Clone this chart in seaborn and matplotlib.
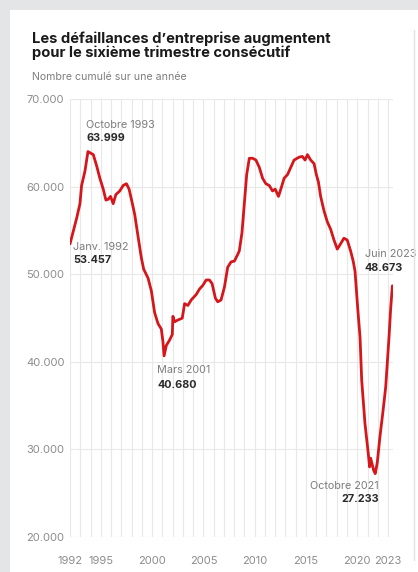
import matplotlib
matplotlib.use("Agg")
import matplotlib.pyplot as plt
from matplotlib.patches import Rectangle
from matplotlib.lines import Line2D
import seaborn as sns
import pandas as pd

# ---- data ----
years = [1992.00, 1992.65, 1992.97, 1993.13, 1993.46, 1993.75, 1994.27, 1994.59, 1994.91,
         1995.24, 1995.50, 1995.72, 1995.95, 1996.21, 1996.47, 1996.85, 1997.18, 1997.50,
         1997.76, 1998.08, 1998.31, 1998.63, 1998.96, 1999.18, 1999.61, 1999.93, 2000.25,
         2000.58, 2000.90, 2001.06, 2001.17, 2001.39, 2001.71, 2001.97, 2002.03, 2002.19,
         2002.52, 2002.94, 2003.17, 2003.49, 2003.81, 2004.30, 2004.62, 2004.94, 2005.27,
         2005.59, 2005.85, 2006.17, 2006.40, 2006.72, 2007.05, 2007.37, 2007.70, 2008.02,
         2008.34, 2008.50, 2008.76, 2008.99, 2009.22, 2009.48, 2009.80, 2010.12, 2010.45,
         2010.77, 2011.09, 2011.42, 2011.74, 2012.00, 2012.32, 2012.55, 2012.87, 2013.20,
         2013.52, 2013.84, 2014.33, 2014.65, 2014.91, 2015.14, 2015.46, 2015.79, 2016.01,
         2016.21, 2016.43, 2016.76, 2017.08, 2017.40, 2017.73, 2018.05, 2018.38, 2018.70,
         2019.02, 2019.35, 2019.60, 2019.78, 2020.05, 2020.27, 2020.43, 2020.75, 2021.07,
         2021.20, 2021.30, 2021.45, 2021.60, 2021.75, 2021.95, 2022.21, 2022.50, 2022.77,
         2023.09, 2023.25, 2023.42]
defaillances = [53457, 56400, 58050, 60125, 61785, 63999, 63650, 62400, 60955,
                59710, 58465, 58550, 58880, 58050, 59090, 59500, 60125, 60330,
                59710, 58050, 56800, 54320, 51830, 50580, 49545, 48090, 45600,
                44360, 43740, 42285, 40680, 41870, 42490, 43115, 45190, 44570,
                44775, 44980, 46640, 46430, 47055, 47680, 48300, 48715, 49340,
                49340, 48925, 47265, 46850, 47055, 48510, 50790, 51410, 51495,
                52240, 52655, 54730, 58050, 61370, 63235, 63235, 63030, 62200,
                60955, 60330, 60125, 59500, 59710, 58880, 59710, 60955, 61370,
                62200, 63030, 63360, 63445, 63030, 63650, 63030, 62615, 61370,
                60540, 58880, 57220, 55975, 55145, 53900, 52865, 53485, 54110,
                53900, 52655, 51500, 50340, 46000, 42770, 37910, 32940, 29550,
                28000, 29000, 28300, 27600, 27233, 28500, 31470, 34300, 37120,
                42770, 46000, 48673]

ytick_values = [20000, 30000, 40000, 50000, 60000, 70000]
ytick_labels = ["20.000", "30.000", "40.000", "50.000", "60.000", "70.000"]
xtick_values = [1992, 1995, 2000, 2005, 2010, 2015, 2020, 2023]
xtick_labels = ["1992", "1995", "2000", "2005", "2010", "2015", "2020", "2023"]

ann_dates = ["Janv. 1992", "Octobre 1993", "Mars 2001", "Octobre 2021", "Juin 2023"]
ann_values = ["53.457", "63.999", "40.680", "27.233", "48.673"]

title_lines = ["Les défaillances d\u2019entreprise augmentent",
               "pour le sixième trimestre consécutif"]
subtitle = "Nombre cumulé sur une année"

df = pd.DataFrame({"annee": years, "defaillances": defaillances})

# ---- styling ----
sns.set_theme(style="white")
plt.rcParams["font.family"] = ["Inter", "DejaVu Sans"]

W, H = 418, 572
fig = plt.figure(figsize=(W / 100, H / 100), dpi=100)
fig.patch.set_facecolor("#e4e5e7")
fig.add_artist(Rectangle((10 / W, 0), 1 - 10 / W, (H - 10) / H, transform=fig.transFigure,
                         facecolor="white", edgecolor="none", zorder=0))
fig.add_artist(Line2D([414 / W, 414 / W], [1 - 30 / H, 1 - 560 / H], transform=fig.transFigure,
                      color="#e2e2e2", lw=1, zorder=1))

def px(x, y):
    return x / W, 1 - y / H

# axes: 1992 -> x=70px, 20000 -> y=537px, 70000 -> y=99px
x0, x1 = 70, 393
y_top, y_bot = 99, 537
ax = fig.add_axes([x0 / W, 1 - y_bot / H, (x1 - x0) / W, (y_bot - y_top) / H])
ax.set_facecolor("none")

sns.lineplot(data=df, x="annee", y="defaillances", ax=ax, color="#d5161b", lw=2.0,
             solid_joinstyle="round", zorder=3)

ax.set_xlim(1992, 1992 + (x1 - x0) / 10.26)
ax.set_ylim(20000, 70000)
for sp in ax.spines.values():
    sp.set_visible(False)

# grid: each year vertically, each 10.000 horizontally
for yr in range(1992, 2024):
    ax.axvline(yr, color="#e8e8e8", lw=0.8, zorder=1)
for v in ytick_values:
    ax.axhline(v, color="#e8e8e8", lw=0.8, zorder=1)

ax.set_xticks(xtick_values)
ax.set_xticklabels(xtick_labels)
ax.set_yticks(ytick_values)
ax.set_yticklabels(ytick_labels)
ax.tick_params(axis="both", length=0, labelsize=8, labelcolor="#8c8c8c")
ax.tick_params(axis="x", pad=14)
ax.tick_params(axis="y", pad=4)
ax.set_xlabel("")
ax.set_ylabel("")

# annotations (label positions in data units)
ann_pos = [(1992.3, 53160, 51580, "left"),
           (1993.56, 67060, 65590, "left"),
           (2000.48, 39040, 37340, "left"),
           (2022.12, 25820, 24350, "right"),
           (2020.75, 52260, 50680, "left")]
for (xa, ya1, ya2, ha), d, v in zip(ann_pos, ann_dates, ann_values):
    ax.text(xa, ya1, d, ha=ha, va="center", fontsize=7.8, color="#7d7d7d", zorder=4)
    ax.text(xa, ya2, v, ha=ha, va="center", fontsize=7.8, color="#2a2a2a",
            fontweight="bold", zorder=4)

# titles
fig.text(*px(32, 43), title_lines[0], ha="left", va="baseline", fontsize=10.6,
         fontweight="bold", color="#1a1a1a")
fig.text(*px(32, 56.5), title_lines[1], ha="left", va="baseline", fontsize=10.6,
         fontweight="bold", color="#1a1a1a")
fig.text(*px(32, 80), subtitle, ha="left", va="baseline", fontsize=7.6, color="#7d7d7d")

fig.savefig("out.png", dpi=100, facecolor=fig.get_facecolor())
